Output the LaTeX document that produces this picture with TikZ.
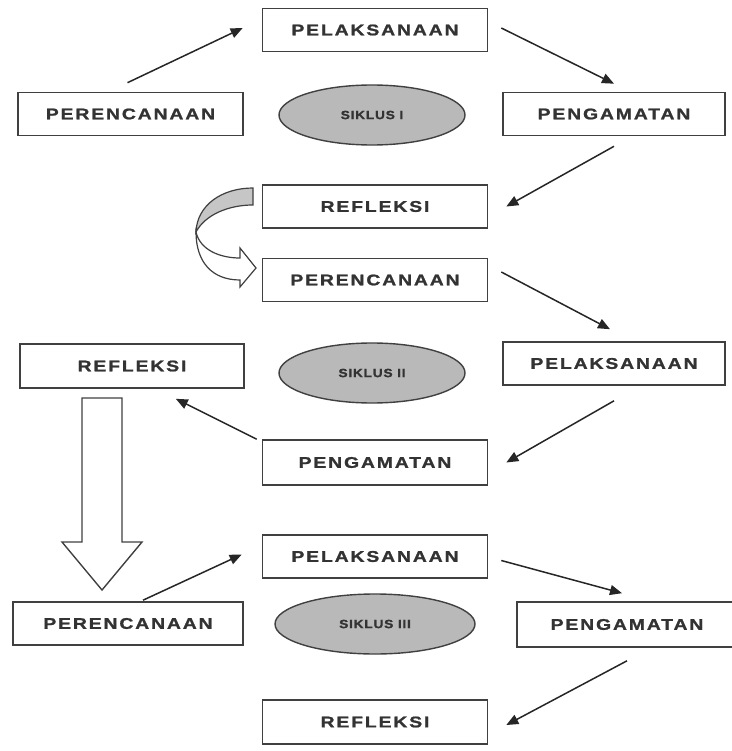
\documentclass[tikz,border=0pt]{standalone}
\usepackage{fontspec}
\newfontfamily\boxfont[LetterSpace=12,FakeStretch=1.25,FakeBold=1.2]{Liberation Sans Bold}
\newfontfamily\cyclefont[LetterSpace=6,FakeStretch=1.15,FakeBold=1.2]{Liberation Sans Bold}
\usetikzlibrary{
    arrows.meta,
    calc,
    shapes.geometric
}

\begin{document}
\begin{tikzpicture}[x=1pt,y=-1pt,
    box/.style={draw=black!75,line width=1.6pt,fill=white,minimum width=225pt,minimum height=43pt,inner sep=0pt,text=black!80,font=\boxfont\fontsize{15.5}{15.5}\selectfont},
    cycle/.style={ellipse,draw=black!75,line width=1.4pt,fill=gray!55,minimum width=186pt,minimum height=60pt,inner sep=0pt,text=black!80,font=\cyclefont\fontsize{12}{12}\selectfont},
    flow/.style={-{Triangle[length=12pt,width=10pt]},line width=1.5pt,black!85}
]
\useasboundingbox (0,0) rectangle (731,751);

% Siklus I
\node[box] (pelA) at (375,30) {PELAKSANAAN};
\node[box] (perA) at (130.5,114) {PERENCANAAN};
\node[cycle] (sikA) at (372,115) {SIKLUS I};
\node[box,minimum width=222pt] (pngA) at (614,114) {PENGAMATAN};
\node[box] (refA) at (375,206.5) {REFLEKSI};

% Siklus II
\node[box] (perB) at (375,280) {PERENCANAAN};
\node[box,minimum width=224pt,minimum height=44pt] (refB) at (132,366) {REFLEKSI};
\node[cycle] (sikB) at (372,373) {SIKLUS II};
\node[box,minimum width=222pt] (pelB) at (614,363.5) {PELAKSANAAN};
\node[box,minimum height=45pt] (pngB) at (375,462.5) {PENGAMATAN};

% Siklus III
\node[box] (pelC) at (375,556.5) {PELAKSANAAN};
\node[box,minimum width=230pt] (perC) at (128,623.5) {PERENCANAAN};
\node[cycle,minimum width=200pt] (sikC) at (375,624) {SIKLUS III};
\node[box,minimum width=220pt,minimum height=45pt] (pngC) at (627,624.5) {PENGAMATAN};
\node[box,minimum height=44pt] (refC) at (375,722) {REFLEKSI};

% Arrows
\draw[flow] ([xshift=-3,yshift=9]perA.north) -- ([xshift=-19,yshift=2]pelA.west);
\draw[flow] ([xshift=13,yshift=2]pelA.east) -- ([yshift=8]pngA.north);
\draw[flow] ([yshift=-10]pngA.south) -- ([xshift=18]refA.east);
\draw[flow] ([xshift=13,yshift=8]perB.east) -- ([xshift=-4,yshift=12]pelB.north);
\draw[flow] ([yshift=-15]pelB.south) -- ([xshift=18]pngB.east);
\draw[flow] ([xshift=-5]pngB.north west) -- ([xshift=-69,yshift=-10]refB.south east);
\draw[flow] ([xshift=15,yshift=1]perC.north) -- ([xshift=-20,yshift=2]pelC.west);
\draw[flow] ([xshift=13,yshift=-4]pelC.east) -- ([xshift=-5,yshift=8]pngC.north);
\draw[flow] ([yshift=-13]pngC.south) -- ([xshift=18,yshift=-3]refC.east);

% Curved arrow
\draw[black!75,line width=1.2pt,fill=gray!45] (253,188) .. controls (222,188) and (197,205) .. (196,232)
    .. controls (205,215) and (228,205) .. (253,205) -- cycle;
\draw[black!75,line width=1.2pt,fill=white] (196,232) .. controls (200,250) and (220,258) .. (240,258)
    -- (240,248) -- (256,268) -- (240,287) -- (240,280)
    .. controls (212,280) and (196,262) .. (196,232) -- cycle;

% Big arrow
\draw[black!75,line width=1.4pt,fill=white] (82,398) -- (122,398) -- (122,542) -- (142,542)
    -- (102,590) -- (62,542) -- (82,542) -- cycle;

\end{tikzpicture}
\end{document}
